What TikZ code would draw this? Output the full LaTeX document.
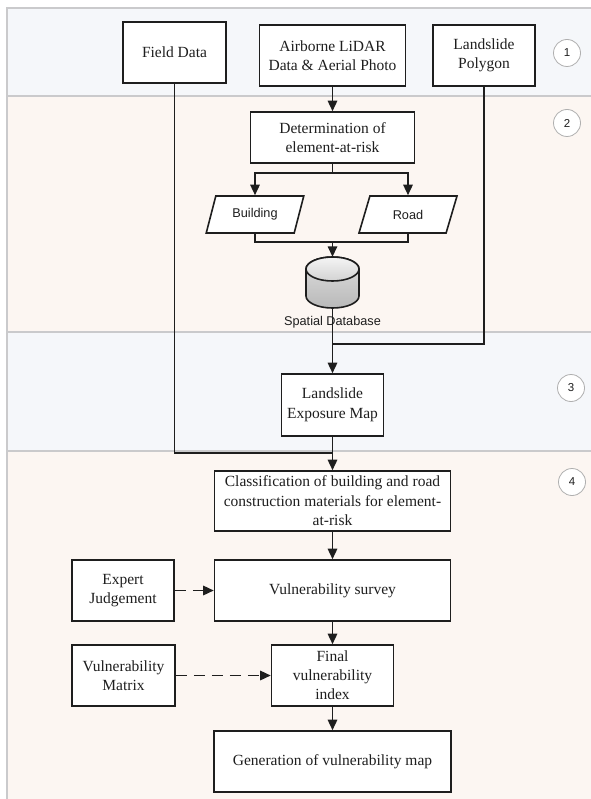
\documentclass[tikz,border=0pt]{standalone}
\usepackage{fontspec}
\setmainfont{Liberation Serif}
\newfontfamily\sansf{Liberation Sans}
\usetikzlibrary{arrows.meta,shapes.geometric}
\definecolor{bandA}{RGB}{245,247,250}
\definecolor{bandB}{RGB}{252,246,242}
\definecolor{frameg}{RGB}{202,202,204}
\definecolor{ink}{RGB}{30,30,30}
\definecolor{numg}{RGB}{175,175,175}
\begin{document}
\begin{tikzpicture}[x=1pt,y=-1pt,
  box/.style={draw=ink, line width=1.6pt, fill=white, inner sep=0pt, align=center,
    font=\fontsize{15.5}{19.5}\selectfont, text=ink},
  io/.style={trapezium, trapezium left angle=65, trapezium right angle=115,
    trapezium stretches=true, draw=ink, line width=1.6pt, fill=white,
    minimum width=98pt, minimum height=37pt, inner sep=0pt,
    font=\sansf\fontsize{12.7}{15}\selectfont, text=ink},
  num/.style={circle, draw=numg, fill=white, line width=0.8pt, minimum size=27pt,
    inner sep=0pt, font=\sansf\fontsize{11.5}{13}\selectfont, text=ink},
  con/.style={draw=ink, line width=1.5pt},
  arr/.style={con, -{Triangle[length=10.5pt,width=9.5pt]}},
  dasharr/.style={arr, dash pattern=on 11pt off 7pt}]
\useasboundingbox (0,0) rectangle (590,799);
% bands
\fill[bandA] (7,8) rectangle (592,96);
\fill[bandB] (7,96) rectangle (592,332);
\fill[bandA] (7,332) rectangle (592,451);
\fill[bandB] (7,451) rectangle (592,801);
\draw[frameg, line width=1.5pt] (7,801) -- (7,8) -- (592,8);
\foreach \yy in {96,332,451} \draw[frameg, line width=1.5pt] (7,\yy) -- (592,\yy);
% numbers
\node[num] (n1) at (567,53) {1};
\node[num] (n2) at (567,123) {2};
\node[num] (n3) at (571,388) {3};
\node[num] (n4) at (572,482) {4};
% boxes
\node[box, minimum width=103pt, minimum height=61pt] (field) at (174.5,52.5) {Field Data};
\node[box, minimum width=146pt, minimum height=61pt] (lidar) at (332.5,55.5) {Airborne LiDAR\\Data \& Aerial Photo};
\node[box, minimum width=102pt, minimum height=61pt] (poly) at (484,55.5) {Landslide\\Polygon};
\node[box, minimum width=164pt, minimum height=51pt] (det) at (332.5,137.5) {Determination of\\element-at-risk};
\node[io] (bld) at (255,214.5) {Building};
\node[io] (road) at (408,214.5) {Road};
\node[inner sep=0pt, minimum width=53pt, minimum height=51pt] (db) at (332.5,282.5) {};
\node[font=\sansf\fontsize{12.7}{15}\selectfont, text=ink, inner sep=0pt] (dblabel) at (332.5,322) {Spatial Database};
\node[box, minimum width=102pt, minimum height=62pt] (expo) at (332.5,405) {Landslide\\Exposure Map};
\node[box, minimum width=236pt, minimum height=60pt] (class) at (332.5,501) {Classification of building and road\\construction materials for element-\\at-risk};
\node[box, minimum width=236pt, minimum height=61pt] (survey) at (332.5,590.5) {Vulnerability survey};
\node[box, minimum width=102pt, minimum height=61pt] (expert) at (123,590.5) {Expert\\Judgement};
\node[box, minimum width=122pt, minimum height=61pt, font=\fontsize{15.5}{19}\selectfont] (final) at (332.5,675.5) {Final\\vulnerability\\index};
\node[box, minimum width=103pt, minimum height=61pt] (matrix) at (123.5,675.5) {Vulnerability\\Matrix};
\node[box, minimum width=237pt, minimum height=61pt] (gen) at (332.5,761.5) {Generation of vulnerability map};
% cylinder drawn on db
\shade[top color=gray!25, bottom color=gray!55, draw=ink, line width=1.6pt]
  (306,269) -- (306,296) arc[start angle=180, end angle=360, x radius=26.5pt, y radius=12pt]
  -- (359,269) arc[start angle=0, end angle=180, x radius=26.5pt, y radius=12pt] -- cycle;
\shade[top color=gray!8, bottom color=gray!35, draw=ink, line width=1.6pt]
  (332.5,269) ellipse[x radius=26.5pt, y radius=12pt];
% junction coordinates
\coordinate (split) at (332.5,173);
\coordinate (merge) at (332.5,242);
\coordinate (j1) at (332.5,344);
\coordinate (j2) at (332.5,453);
% connectors
\draw[arr] (lidar) -- (det);
\draw[con] (det.south) -- (split);
\draw[arr] (split) -| (bld.north);
\draw[arr] (split) -| (road.north);
\draw[con] (bld.south) |- (merge);
\draw[con] (road.south) |- (merge);
\draw[arr] (merge) -- (db.north);
\draw[arr] (db.south) -- (expo.north);
\draw[con] (poly.south) |- (j1);
\draw[con] (field.south) |- (j2);
\draw[arr] (expo.south) -- (class.north);
\draw[arr] (class) -- (survey);
\draw[arr] (survey) -- (final);
\draw[arr] (final) -- (gen);
\draw[dasharr] (expert) -- (survey);
\draw[dasharr] (matrix) -- (final);
\end{tikzpicture}
\end{document}
